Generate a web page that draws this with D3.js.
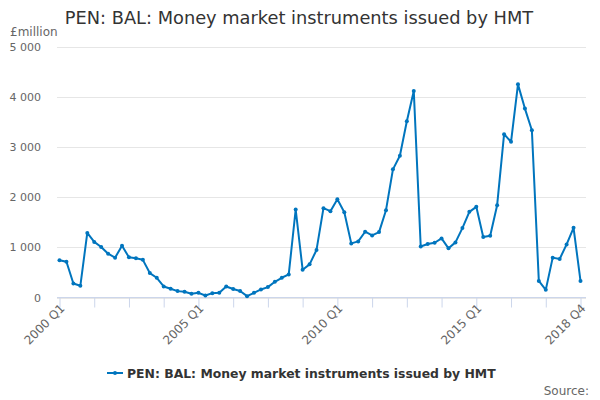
<!DOCTYPE html>
<html>
<head>
<meta charset="utf-8">
<script src="https://cdn.jsdelivr.net/npm/d3@7"></script>
<style>
body { margin: 0; background: #fff; }
text { font-family: "DejaVu Sans", sans-serif; }
</style>
</head>
<body>
<div id="chart"></div>
<script>
var quarters = [];
for (var yr = 2000; yr <= 2018; yr++) {
	for (var q = 1; q <= 4; q++) quarters.push(yr + " Q" + q);
}
var values = [740, 713, 280, 233, 1287, 1107, 1007, 873, 793, 1033,
	800, 780, 750, 487, 393, 220, 173, 127, 113, 73,
	93, 40, 87, 93, 220, 170, 130, 27, 93, 160,
	207, 313, 393, 460, 1753, 553, 660, 947, 1780, 1720,
	1958, 1700, 1078, 1118, 1310, 1237, 1303, 1739, 2553, 2824,
	3512, 4114, 1015, 1065, 1091, 1177, 979, 1098, 1382, 1706,
	1806, 1204, 1230, 1839, 3254, 3102, 4246, 3763, 3333, 331,
	152, 794, 767, 1058, 1389, 331];
var tickLabels = ["2000 Q1", "2005 Q1", "2010 Q1", "2015 Q1", "2018 Q4"];
var yTicks = [0, 1000, 2000, 3000, 4000, 5000];
var title = "PEN: BAL: Money market instruments issued by HMT";

var w = 600, h = 400;
var svg = d3.select("#chart").append("svg").attr("width", w).attr("height", h);

var x = d3.scalePoint().domain(quarters).range([59.5, 580.5]);
var y = d3.scaleLinear().domain([0, 5000]).range([297.5, 46.5]);
var fmt = function(d) { return d3.format(",")(d).replace(/,/g, " "); };

svg.append("text").attr("x", 299).attr("y", 24).attr("text-anchor", "middle")
	.style("font-size", "17.8px").style("fill", "#333").text(title);
svg.append("text").attr("x", 10).attr("y", 36).style("font-size", "12px")
	.style("fill", "#666").text("£million");

// gridlines
svg.append("g").selectAll("line").data(yTicks).enter().append("line")
	.attr("x1", 57).attr("x2", 586)
	.attr("y1", function(d) { return Math.round(y(d)) + 0.5; })
	.attr("y2", function(d) { return Math.round(y(d)) + 0.5; })
	.style("stroke", "#e6e6e6");
svg.append("g").selectAll("text").data(yTicks).enter().append("text")
	.attr("x", 41).attr("y", function(d) { return y(d) + 4; })
	.attr("text-anchor", "end").style("font-size", "11px").style("fill", "#666")
	.text(fmt);

// x axis
var tickQ = quarters.filter(function(d, i) { return i % 5 == 0; });
var xAxis = d3.axisBottom(x).tickValues(tickQ).tickSize(10).tickFormat("");
var gx = svg.append("g").attr("transform", "translate(0,297.5)").call(xAxis);
gx.select(".domain").attr("d", "M57,0H586").style("stroke", "#ccd6eb");
gx.selectAll(".tick line").style("stroke", "#ccd6eb");
svg.append("g").selectAll("text").data(tickLabels).enter().append("text")
	.attr("transform", function(d) { return "translate(" + (x(d) + 6) + ",309) rotate(-45)"; })
	.attr("text-anchor", "end").style("font-size", "12px").style("fill", "#666")
	.text(function(d) { return d; });

// series
var line = d3.line().x(function(d, i) { return x(quarters[i]); }).y(function(d) { return y(d); });
svg.append("path").datum(values).attr("d", line)
	.style("fill", "none").style("stroke", "#0075be").style("stroke-width", 2)
	.style("stroke-linejoin", "round");
svg.append("g").selectAll("circle").data(values).enter().append("circle")
	.attr("cx", function(d, i) { return x(quarters[i]); })
	.attr("cy", function(d) { return y(d); })
	.attr("r", 2).style("fill", "#0075be");

// legend
var legend = svg.append("g").attr("transform", "translate(107,373)");
legend.append("line").attr("x1", 0).attr("x2", 16).attr("y1", 0).attr("y2", 0)
	.style("stroke", "#0075be").style("stroke-width", 2);
legend.append("circle").attr("cx", 8).attr("cy", 0).attr("r", 2).style("fill", "#0075be");
legend.append("text").attr("x", 20).attr("y", 4.5).style("font-size", "12.4px")
	.style("font-weight", "bold").style("fill", "#333").text(title);

svg.append("text").attr("x", 589).attr("y", 395).attr("text-anchor", "end")
	.style("font-size", "12px").style("fill", "#666").text("Source:");
</script>
</body>
</html>
